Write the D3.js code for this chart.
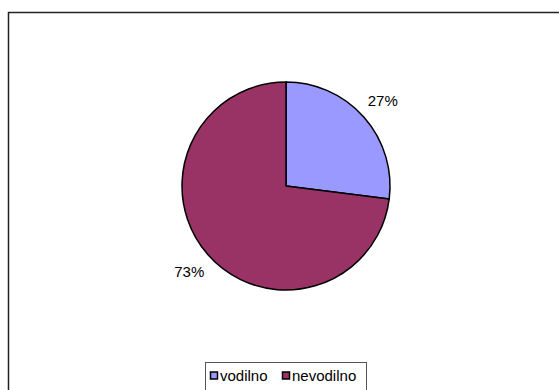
<!DOCTYPE html>
<html><head><meta charset="utf-8">
<script src="https://cdn.jsdelivr.net/npm/d3@7"></script>
<style>body{margin:0;background:#fff}svg{display:block}</style>
</head><body>
<svg id="c" width="559" height="390"></svg>
<script>
const categories = ["vodilno", "nevodilno"];
const values = [27, 73];
const labels = ["27%", "73%"];
const colors = ["#9999FF", "#993366"];

const svg = d3.select("#c");
const font = "Arial, 'Liberation Sans', sans-serif";

// outer chart frame (cropped at right/bottom)
svg.append("rect").attr("x", 8.5).attr("y", 12.5).attr("width", 600).attr("height", 400)
  .attr("fill", "#fff").attr("stroke", "#222").attr("stroke-width", 1.5);

const cx = 286, cy = 186, r = 104;
const pie = d3.pie().sort(null).value(d => d)(values);
const arc = d3.arc().innerRadius(0).outerRadius(r);
const g = svg.append("g").attr("transform", `translate(${cx},${cy})`);
g.selectAll("path").data(pie).join("path")
  .attr("d", arc).attr("fill", (d, i) => colors[i])
  .attr("stroke", "#000").attr("stroke-width", 1.5).attr("stroke-linejoin", "round");

const lab = d3.arc().innerRadius(r + 25).outerRadius(r + 25);
g.selectAll("text").data(pie).join("text")
  .attr("transform", d => { const c = lab.centroid(d); return `translate(${c[0]},${c[1]})`; })
  .attr("text-anchor", "middle").attr("dy", "0.38em")
  .attr("font-family", font).attr("font-size", 15).attr("fill", "#000")
  .text((d, i) => labels[i]);

// legend
const lg = svg.append("g");
lg.append("rect").attr("x", 205.5).attr("y", 362.5).attr("width", 161).attr("height", 40)
  .attr("fill", "#fff").attr("stroke", "#555").attr("stroke-width", 1);
const items = [{x: 210}, {x: 282}];
categories.forEach((c, i) => {
  lg.append("rect").attr("x", items[i].x + 0.5).attr("y", 372).attr("width", 7).attr("height", 7)
    .attr("fill", colors[i]).attr("stroke", "#000").attr("stroke-width", 1.5);
  lg.append("text").attr("x", items[i].x + 10).attr("y", 381)
    .attr("font-family", font).attr("font-size", 15).attr("fill", "#000").text(c);
});
</script>
</body></html>
